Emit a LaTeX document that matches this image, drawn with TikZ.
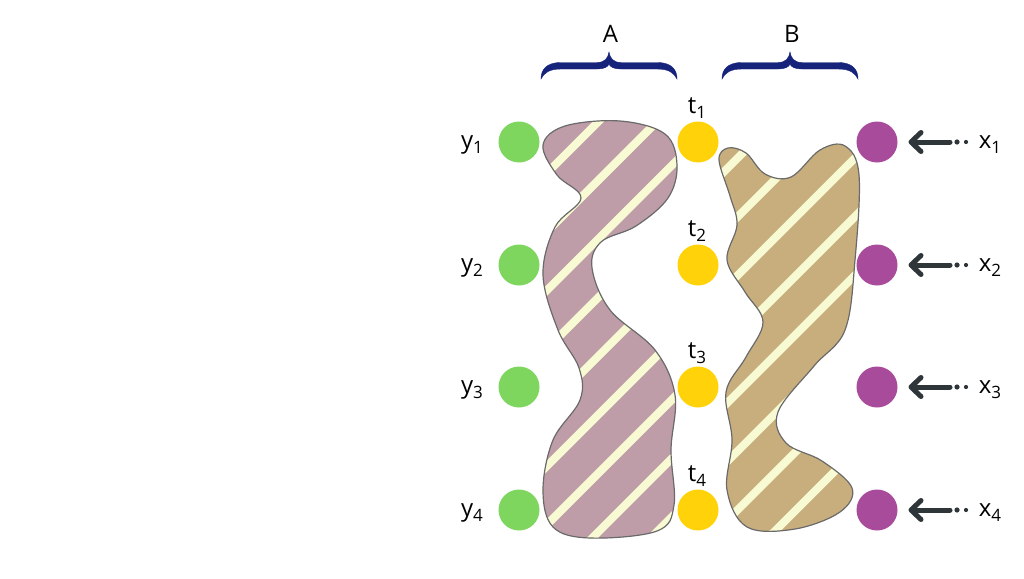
\documentclass[tikz,border=0pt]{standalone}
\usepackage{fontspec}
\setmainfont{Open Sans}
\usetikzlibrary{arrows.meta}
\definecolor{cgreen}{HTML}{7ED65E}
\definecolor{cyellow}{HTML}{FFD20A}
\definecolor{cpurple}{HTML}{A94B9B}
\definecolor{cmauve}{HTML}{BE9DA8}
\definecolor{ctan}{HTML}{C8AE7D}
\definecolor{cstripe}{HTML}{F7FAD2}
\definecolor{coutline}{HTML}{6A6A6A}
\definecolor{carrow}{HTML}{2E3639}
\definecolor{cnavy}{HTML}{16237A}
\newcommand{\lsub}[1]{\raisebox{-5pt}{\fontsize{17}{17}\selectfont #1}}
\newcommand{\mybrace}[2]{%
  \fill[cnavy,draw=cnavy,line width=0.4pt]
    (#1,79) .. controls (#1,70) and (#1+5,62.5) .. (#1+20,62.5)
    -- ({(#1+#2)/2-12},62.5) .. controls ({(#1+#2)/2-4},62.5) and ({(#1+#2)/2-1},58) .. ({(#1+#2)/2},52)
    .. controls ({(#1+#2)/2+1},58) and ({(#1+#2)/2+4},62.5) .. ({(#1+#2)/2+12},62.5)
    -- (#2-20,62.5) .. controls (#2-5,62.5) and (#2,70) .. (#2,79)
    .. controls (#2-3,73) and (#2-8,69) .. (#2-20,69)
    -- ({(#1+#2)/2+12},69) .. controls ({(#1+#2)/2+5},69) and ({(#1+#2)/2+1},67) .. ({(#1+#2)/2},64)
    .. controls ({(#1+#2)/2-1},67) and ({(#1+#2)/2-5},69) .. ({(#1+#2)/2-12},69)
    -- (#1+20,69) .. controls (#1+8,69) and (#1+3,73) .. (#1,79) -- cycle;}
\def\blobA{plot[smooth cycle, tension=0.6] coordinates {
 (543,145) (565,126) (620,121) (665,134) (677,165) (668,198) (636,226)
 (601,242) (592,268) (610,310) (655,350) (675,395) (671,450) (674,505)
 (657,531) (590,538) (553,527) (543,490) (553,440) (580,400) (579,368)
 (558,330) (543,275) (555,227) (581,198) (557,175)}}
\def\blobB{plot[smooth cycle, tension=0.6] coordinates {
 (719,160) (730,196) (737,225) (727,260) (745,292) (763,322) (746,357)
 (726,392) (732,440) (727,490) (747,527) (795,529) (840,512) (852,488)
 (822,461) (786,443) (778,412) (814,366) (845,330) (855,260) (859,175)
 (845,146) (820,150) (791,177) (765,174) (746,153) (728,148)}}
\begin{document}
\begin{tikzpicture}[x=1pt,y=-1pt,
  dot/.style={circle,minimum size=41pt,inner sep=0pt,outer sep=0pt},
  lbl/.style={font=\fontsize{24}{24}\selectfont,anchor=base,inner sep=0pt},
  stripe/.style={cstripe,line width=8pt},
  blobline/.style={coutline,line width=1.2pt},
  arr/.style={carrow,line width=5pt,line cap=round,
    -{Straight Barb[length=10pt,width=19pt,round]},shorten >=11pt}]
\useasboundingbox (0,0) rectangle (1024,578);
% blobs
\fill[cmauve] \blobA;
\begin{scope}
  \clip \blobA;
  \foreach \k in {0,...,12}{\draw[stripe] ({620+58.6*\k},100) -- ({160+58.6*\k},560);}
\end{scope}
\draw[blobline] \blobA;
\fill[ctan] \blobB;
\begin{scope}
  \clip \blobB;
  \foreach \k in {0,...,12}{\draw[stripe] ({620+58.6*\k},100) -- ({160+58.6*\k},560);}
\end{scope}
\draw[blobline] \blobB;
% braces
\mybrace{541}{677}
\mybrace{722}{858}
\node[lbl] (lA) at (610.5,42) {A};
\node[lbl] (lB) at (792,42) {B};
% rows
\foreach \i/\y in {1/142,2/265,3/387,4/510}{
  \node[dot,fill=cgreen] (g\i) at (519,\y) {};
  \node[dot,fill=cyellow] (o\i) at (698,\y) {};
  \node[dot,fill=cpurple] (p\i) at (877,\y) {};
  \node[lbl] (ly\i) at (472,\y+6) {y\lsub{\i}};
  \node[lbl] (lt\i) at (697,\y-29) {t\lsub{\i}};
  \node[lbl] (lx\i) at (990,\y+6) {x\lsub{\i}};
  \coordinate (s\i) at (950,\y);
  \draw[arr] (s\i) -- (p\i.east);
  \fill[carrow] (957,\y) circle (2.6);
  \fill[carrow] (966,\y) circle (2.1);
}
\end{tikzpicture}
\end{document}
